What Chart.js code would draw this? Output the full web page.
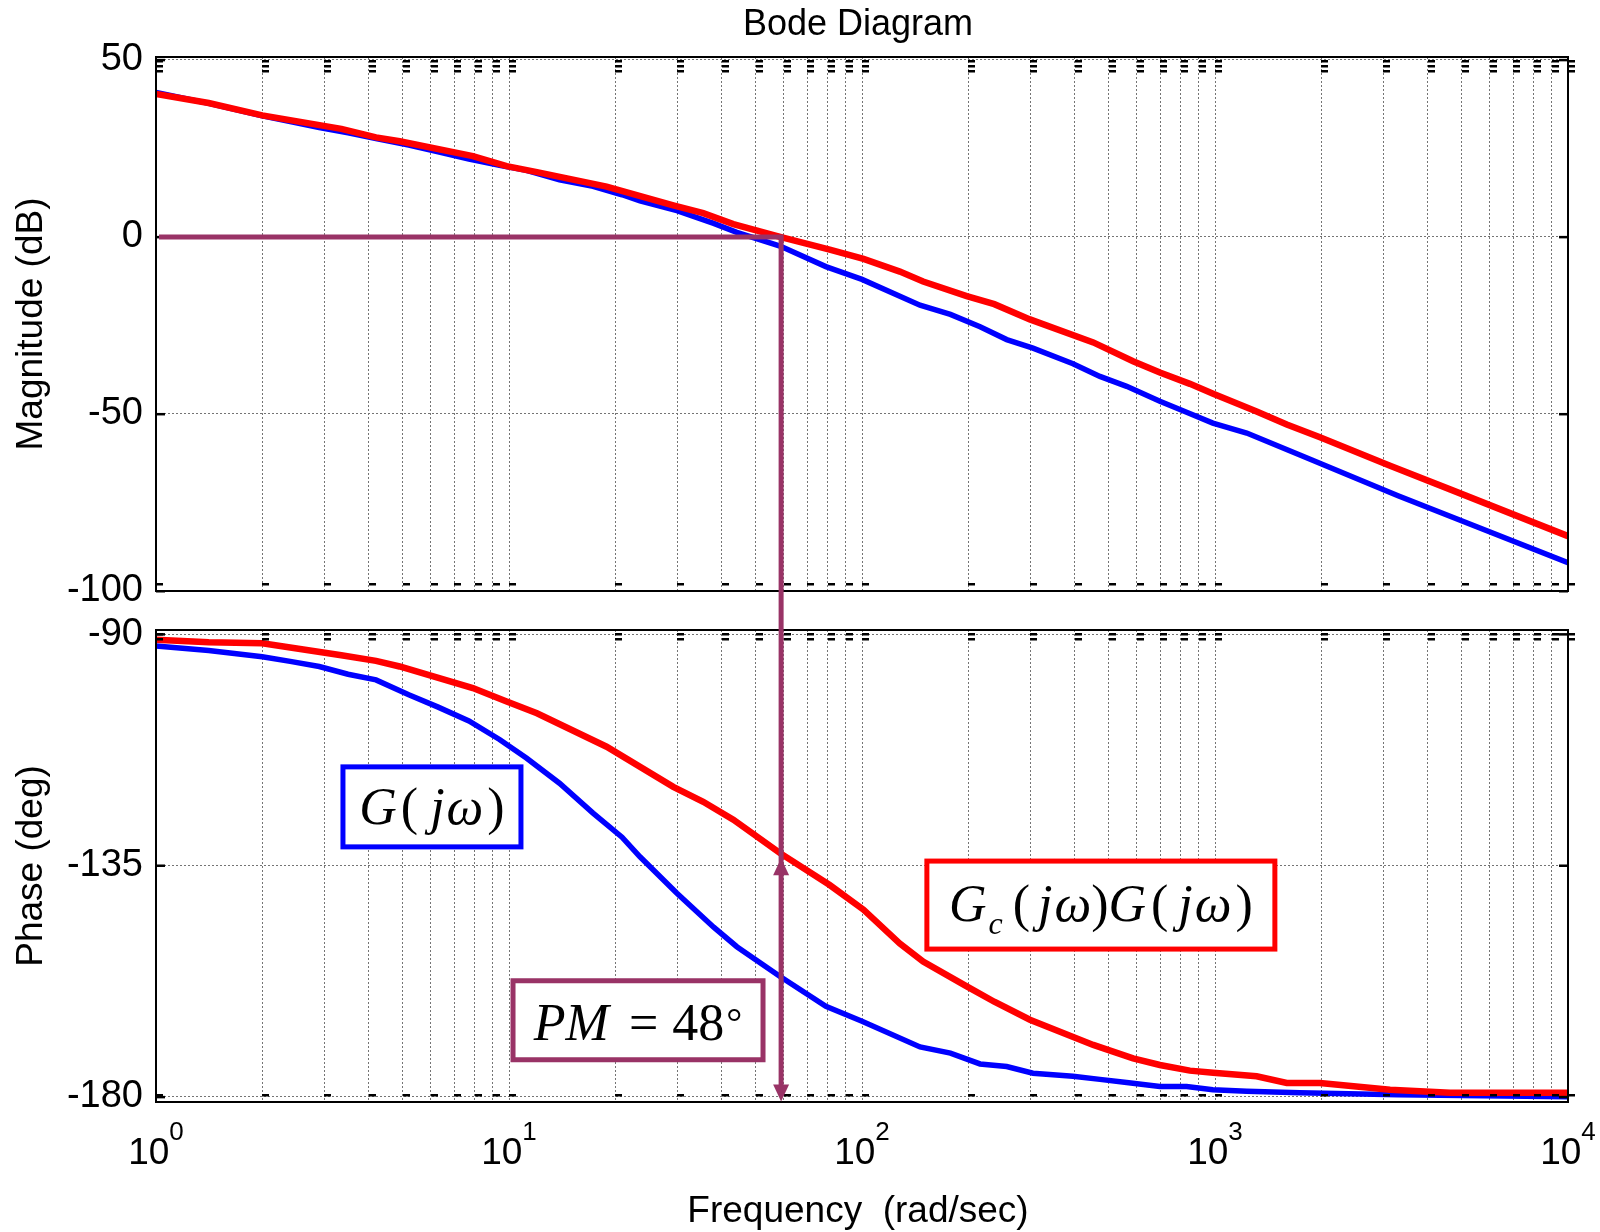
<!DOCTYPE html>
<html>
<head>
<meta charset="utf-8">
<script src="https://cdn.jsdelivr.net/npm/chart.js@4.4.0/dist/chart.umd.min.js"></script>
<style>
html, body { margin: 0; padding: 0; background: #fff; }
#wrap { position: relative; width: 1600px; height: 1232px; }
canvas { position: absolute; left: 0; top: 0; }
</style>
</head>
<body>
<div id="wrap">
<canvas id="magChart" width="1600" height="1232"></canvas>
<canvas id="phaseChart" width="1600" height="1232"></canvas>
</div>
<script>
// G(jw) - blue
var omegaG = [1, 1.41, 2, 2.4, 2.9, 3.5, 4.2, 5.2, 6.3, 7.7,
    9.4, 11.2, 13.9, 17.3, 20.9, 23.5, 29.9, 38, 44.2, 58.6,
    79, 100, 146, 178, 216, 257, 305, 396, 472, 562,
    698, 831, 986, 1230, 1740, 3300, 10000];
var magG = [40.8, 37.7, 34.2, 32.6, 30.9, 29.4, 27.8, 25.9, 24, 22,
    20.2, 18.8, 16.1, 14.3, 11.9, 10.2, 7.4, 3.8, 1.3, -2.6,
    -8.4, -12, -19.3, -21.9, -25.4, -29, -31.4, -35.8, -39.4, -42.2,
    -46.4, -49.5, -52.6, -55.4, -61.6, -73.1, -92];
var phaseG = [-92.3, -93.2, -94.4, -95.3, -96.3, -97.8, -98.9, -101.8, -104.2, -106.9,
    -110.5, -114.1, -119, -124.8, -129.5, -133.3, -140.4, -147, -150.8, -156.6,
    -162.4, -165.3, -170.3, -171.5, -173.6, -174.1, -175.4, -176, -176.6, -177.2,
    -178, -178, -178.6, -178.9, -179.2, -179.6, -180];

// Gc(jw)G(jw) - red
var omegaGc = [1, 1.41, 2, 3.35, 4.2, 4.9, 7.9, 9.85, 12, 18.9,
    29.2, 35.5, 43.2, 58.6, 81, 101, 128, 149, 198, 237,
    299, 452, 586, 698, 849, 988, 1312, 1597, 1983, 3133, 4634, 10000];
var magGc = [40.4, 37.8, 34.3, 30.5, 28.1, 27, 22.8, 20, 18.3, 14.2,
    8.9, 6.7, 3.6, 0, -3.6, -6.2, -9.8, -12.6, -16.7, -19,
    -23.3, -29.8, -35.1, -38.3, -41.5, -44.3, -49.3, -53, -56.6, -64.6, -71.3, -84.5];
var phaseGc = [-91.1, -91.6, -91.8, -94.1, -95.2, -96.3, -100.5, -103.1, -105.4, -111.9,
    -119.7, -122.6, -126.1, -132.6, -138.8, -143.6, -150.2, -153.7, -158.5, -161.5,
    -165, -169.9, -172.5, -173.8, -174.9, -175.3, -176, -177.3, -177.3, -178.6, -179.2, -179.2];

var magTicks = [50, 0, -50, -100];
var phaseTicks = [-90, -135, -180];
var decadeExp = [0, 1, 2, 3, 4];

var crossoverFreq = 59;
var phaseMargin = 48;

var BLUE = '#0000ff', RED = '#ff0000', PURPLE = '#993366';
var SANS = '"Liberation Sans", Arial, sans-serif';
var SERIF = '"Liberation Serif", "Times New Roman", serif';
var GRID = '#747474';

// grid positions 1,2,...9,10,20,...,10000
var freqGrid = [];
decadeExp.forEach(function (e) {
    for (var m = 1; m <= 9; m++) {
        if (e < 4 || m == 1) freqGrid.push(m * Math.pow(10, e));
    }
});

function toPoints(xs, ys) {
    return xs.map(function (x, i) { return { x: x, y: ys[i] }; });
}

function xScale() {
    return {
        type: 'logarithmic',
        min: 1,
        max: 10000,
        afterBuildTicks: function (scale) {
            scale.ticks = freqGrid.map(function (v) { return { value: v }; });
        },
        afterFit: function (scale) { scale.height = 0; },
        ticks: { display: false },
        grid: { color: GRID, lineWidth: 1, drawTicks: false },
        border: { display: false, dash: [2, 2] }
    };
}

function yScale(min, max, list) {
    return {
        min: min,
        max: max,
        afterBuildTicks: function (scale) {
            scale.ticks = list.map(function (v) { return { value: v }; });
        },
        afterFit: function (scale) { scale.width = 156; },
        ticks: {
            color: '#000',
            padding: 13,
            font: { family: SANS, size: 38 },
            callback: function (v) { return String(v); }
        },
        grid: { color: GRID, lineWidth: 1, drawTicks: false },
        border: { display: false, dash: [2, 2] }
    };
}

function drawFrame(chart, topMarks) {
    var ctx = chart.ctx, a = chart.chartArea, xs = chart.scales.x, ys = chart.scales.y;
    ctx.save();
    ctx.fillStyle = '#000';
    xs.ticks.forEach(function (t) {
        var px = Math.round(xs.getPixelForValue(t.value));
        ctx.fillRect(px, a.top + 3, 7, 2.5);
        ctx.fillRect(px, a.top + 8, 7, 2.5);
        if (topMarks) ctx.fillRect(px, a.top + 13, 7, 2.5);
        ctx.fillRect(px, a.bottom - 8, 7, 2.5);
    });
    ys.ticks.forEach(function (t) {
        var py = ys.getPixelForValue(t.value);
        ctx.fillRect(a.left, py - 1, 9, 2.5);
        ctx.fillRect(a.right - 9, py - 1, 9, 2.5);
    });
    ctx.strokeStyle = '#000';
    ctx.lineWidth = 2;
    ctx.strokeRect(a.left, a.top, a.right - a.left, a.bottom - a.top);
    ctx.restore();
}

function drawYTitle(chart, text) {
    var ctx = chart.ctx, a = chart.chartArea;
    ctx.save();
    ctx.translate(32, (a.top + a.bottom) / 2);
    ctx.rotate(-Math.PI / 2);
    ctx.font = '37px ' + SANS;
    ctx.fillStyle = '#000';
    ctx.textAlign = 'center';
    ctx.textBaseline = 'middle';
    ctx.fillText(text, 0, 0);
    ctx.restore();
}

// pieces: {t, it, size, dy, gap}
function drawMath(ctx, pieces, cx, baseline) {
    var total = 0;
    pieces.forEach(function (p) {
        ctx.font = (p.it ? 'italic ' : '') + (p.size || 52) + 'px ' + SERIF;
        p.w = ctx.measureText(p.t).width;
        total += p.w + (p.gap || 0);
    });
    var x = cx - total / 2;
    ctx.fillStyle = '#000';
    ctx.textAlign = 'left';
    ctx.textBaseline = 'alphabetic';
    pieces.forEach(function (p) {
        ctx.font = (p.it ? 'italic ' : '') + (p.size || 52) + 'px ' + SERIF;
        ctx.fillText(p.t, x, baseline + (p.dy || 0));
        x += p.w + (p.gap || 0);
    });
}

function drawBox(chart, freq, deg, w, h, color, pieces, baseOff) {
    var ctx = chart.ctx;
    var cx = chart.scales.x.getPixelForValue(freq);
    var cy = chart.scales.y.getPixelForValue(deg);
    ctx.save();
    ctx.fillStyle = '#fff';
    ctx.fillRect(cx - w / 2, cy - h / 2, w, h);
    ctx.strokeStyle = color;
    ctx.lineWidth = 5;
    ctx.strokeRect(cx - w / 2, cy - h / 2, w, h);
    drawMath(ctx, pieces, cx, cy + baseOff);
    ctx.restore();
}

function arrowHead(ctx, x, tipY, dir) {
    ctx.beginPath();
    ctx.moveTo(x, tipY);
    ctx.lineTo(x - 8, tipY - dir * 17);
    ctx.lineTo(x + 8, tipY - dir * 17);
    ctx.closePath();
    ctx.fill();
}

var commonOptions = function (padding, xs, ys) {
    return {
        responsive: false,
        animation: false,
        events: [],
        layout: { padding: padding },
        plugins: { legend: { display: false }, tooltip: { enabled: false } },
        scales: { x: xs, y: ys }
    };
};

var lineStyle = function (color, width) {
    return { borderColor: color, borderWidth: width, pointRadius: 0, tension: 0, fill: false };
};

var magChart = new Chart(document.getElementById('magChart'), {
    type: 'line',
    data: {
        datasets: [
            Object.assign({ data: toPoints(omegaGc, magGc) }, lineStyle(RED, 6.5)),
            Object.assign({ data: toPoints(omegaG, magG) }, lineStyle(BLUE, 5.5))
        ]
    },
    options: commonOptions({ left: 0, right: 32, top: 57, bottom: 641 },
        xScale(), yScale(-100, 50.8, magTicks)),
    plugins: [{
        id: 'magDecor',
        afterDraw: function (chart) {
            drawFrame(chart, true);
            drawYTitle(chart, 'Magnitude (dB)');
            var ctx = chart.ctx, a = chart.chartArea;
            ctx.save();
            ctx.font = '36px ' + SANS;
            ctx.fillStyle = '#000';
            ctx.textAlign = 'center';
            ctx.textBaseline = 'middle';
            ctx.fillText('Bode Diagram', (a.left + a.right) / 2 - 4, 25);
            ctx.restore();
        }
    }]
});

var phaseChart = new Chart(document.getElementById('phaseChart'), {
    type: 'line',
    data: {
        datasets: [
            Object.assign({ data: toPoints(omegaGc, phaseGc) }, lineStyle(RED, 6.5)),
            Object.assign({ data: toPoints(omegaG, phaseG) }, lineStyle(BLUE, 5.5))
        ]
    },
    options: commonOptions({ left: 0, right: 32, top: 630, bottom: 130 },
        xScale(), yScale(-181, -89.2, phaseTicks)),
    plugins: [{
        id: 'phaseDecor',
        afterDraw: function (chart) {
            var ctx = chart.ctx, a = chart.chartArea, xs = chart.scales.x, ys = chart.scales.y;
            drawFrame(chart, false);
            drawYTitle(chart, 'Phase (deg)');

            // decade labels 10^n
            ctx.save();
            ctx.fillStyle = '#000';
            ctx.textBaseline = 'alphabetic';
            ctx.textAlign = 'left';
            decadeExp.forEach(function (e) {
                var px = xs.getPixelForValue(Math.pow(10, e));
                ctx.font = '37px ' + SANS;
                var w1 = ctx.measureText('10').width;
                ctx.font = '26px ' + SANS;
                var w2 = ctx.measureText(String(e)).width;
                var x0 = px - (w1 + w2) / 2;
                ctx.font = '37px ' + SANS;
                ctx.fillText('10', x0, a.bottom + 62);
                ctx.font = '26px ' + SANS;
                ctx.fillText(String(e), x0 + w1, a.bottom + 38);
            });
            ctx.font = '37px ' + SANS;
            ctx.textAlign = 'center';
            ctx.textBaseline = 'middle';
            ctx.fillText('Frequency  (rad/sec)', (a.left + a.right) / 2 - 4, 1212);
            ctx.restore();

            // phase margin markers
            var mx = magChart.scales.x, my = magChart.scales.y;
            var xc = xs.getPixelForValue(crossoverFreq);
            ctx.save();
            ctx.strokeStyle = PURPLE;
            ctx.fillStyle = PURPLE;
            ctx.lineWidth = 5;
            ctx.beginPath();
            ctx.moveTo(mx.getPixelForValue(1) + 3, my.getPixelForValue(0));
            ctx.lineTo(xc, my.getPixelForValue(0));
            ctx.moveTo(xc, my.getPixelForValue(0) - 2.5);
            ctx.lineTo(xc, ys.getPixelForValue(-180) - 2);
            ctx.stroke();
            arrowHead(ctx, xc, ys.getPixelForValue(-180 + phaseMargin - 1.6), -1);
            arrowHead(ctx, xc, ys.getPixelForValue(-180.9), 1);
            ctx.restore();

            // labels
            drawBox(chart, 6.05, -123.6, 178, 80, BLUE, [
                { t: 'G', it: true, gap: 4 },
                { t: '(', gap: 12 },
                { t: 'j', it: true, gap: 2 },
                { t: '\u03c9', it: true, gap: 4 },
                { t: ')' }
            ], 17);
            drawBox(chart, 475, -142.7, 348, 88, RED, [
                { t: 'G', it: true, gap: 2 },
                { t: 'c', it: true, size: 32, dy: 13, gap: 10 },
                { t: '(', gap: 8 },
                { t: 'j', it: true, gap: 2 },
                { t: '\u03c9', it: true, gap: 0 },
                { t: ')', gap: 0 },
                { t: 'G', it: true, gap: 5 },
                { t: '(', gap: 10 },
                { t: 'j', it: true, gap: 2 },
                { t: '\u03c9', it: true, gap: 4 },
                { t: ')' }
            ], 16);
            drawBox(chart, 23.2, -165.1, 250, 79, PURPLE, [
                { t: 'PM', it: true, gap: 20 },
                { t: '=', gap: 14 },
                { t: '48', gap: 2 },
                { t: '\u00b0', size: 40, dy: -4 }
            ], 20);
        }
    }]
});
</script>
</body>
</html>
